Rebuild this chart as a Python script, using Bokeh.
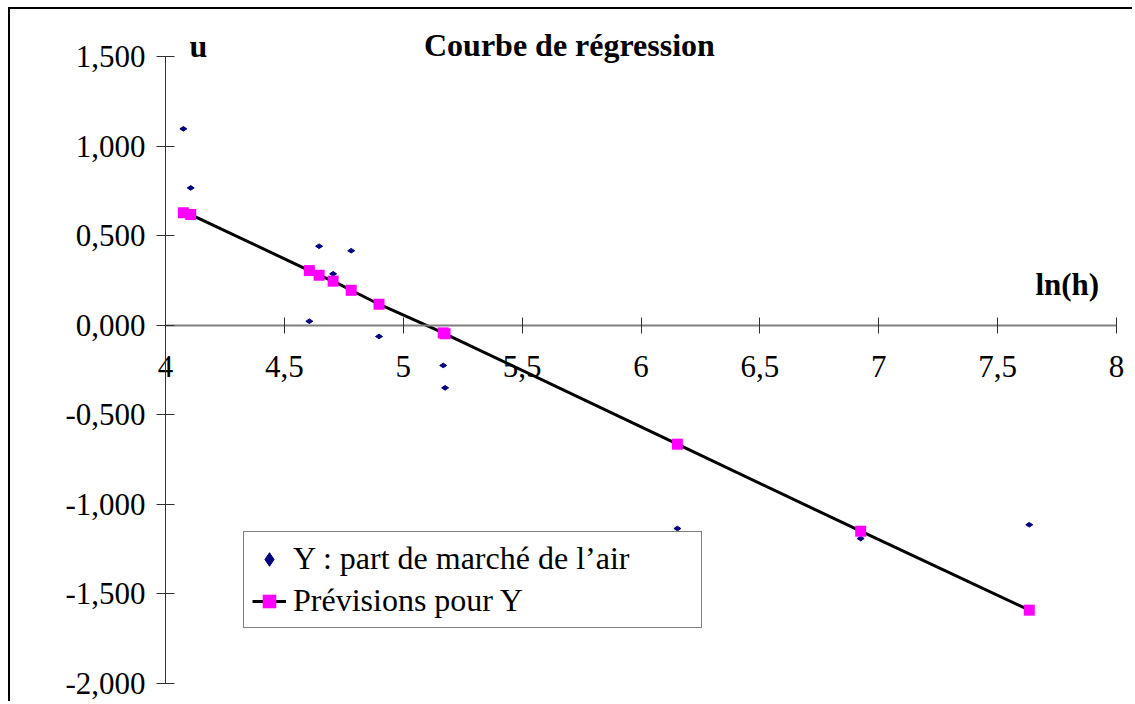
import numpy as np
from bokeh.plotting import figure
from bokeh.models import (ColumnDataSource, LinearAxis, FixedTicker, CustomJSTickFormatter,
                          Range1d, Label, Legend, LegendItem)
from bokeh.embed import file_html
from bokeh.resources import INLINE

# ---- data ----
ln_h = [4.075, 4.106, 4.605, 4.646, 4.705, 4.781, 4.898, 5.168, 5.176, 6.153, 6.924, 7.633]
y_obs = [1.096, 0.766, 0.021, 0.440, 0.286, 0.415, -0.064, -0.226, -0.351, -1.137, -1.193, -1.116]
y_pred = [0.627, 0.617, 0.304, 0.278, 0.245, 0.194, 0.116, -0.044, -0.049, -0.666, -1.152, -1.593]
x_ticks = [4, 4.5, 5, 5.5, 6, 6.5, 7, 7.5, 8]
y_ticks = [-2.0, -1.5, -1.0, -0.5, 0.0, 0.5, 1.0, 1.5]
title_text = "Courbe de régression"
y_title = "u"
x_title = "ln(h)"
label_obs = "Y : part de marché de l’air"
label_pred = "Prévisions pour Y"

FONT = "Liberation Serif"

src = ColumnDataSource(dict(x=ln_h, obs=y_obs, pred=y_pred))

# frame covers the whole canvas; axes are placed at x=4 and y=0 inside it
p = figure(width=1124, height=694, output_backend="svg", toolbar_location=None,
           x_range=Range1d(3.348, 8.0757), y_range=Range1d(-2.1145, 1.7626),
           x_axis_type=None, y_axis_type=None,
           min_border_left=0, min_border_right=0, min_border_top=0, min_border_bottom=0)
p.styles = {"margin-left": "8px", "margin-top": "7px",
            "border-left": "2px solid black", "border-top": "2px solid black"}
p.xgrid.visible = False
p.ygrid.visible = False
p.outline_line_color = None
p.background_fill_color = "white"
p.border_fill_color = "white"

# y axis at x = 4
yax = LinearAxis(ticker=FixedTicker(ticks=y_ticks), fixed_location=4, bounds=(-2, 1.5),
                 formatter=CustomJSTickFormatter(code="return tick.toFixed(3).replace('.', ',');"))
yax.axis_line_color = "#303030"
yax.axis_line_width = 1
yax.major_tick_line_color = "#303030"
yax.major_tick_in = 9
yax.major_tick_out = 9
yax.minor_tick_line_color = None
yax.major_label_text_font = FONT
yax.major_label_text_font_size = "31px"
yax.major_label_text_color = "black"
yax.major_label_standoff = 11
p.add_layout(yax, "left")

# x axis crossing at y = 0
xax = LinearAxis(ticker=FixedTicker(ticks=x_ticks), fixed_location=0, bounds=(4, 8),
                 formatter=CustomJSTickFormatter(code="return (Math.round(tick*10)/10).toString().replace('.', ',');"))
xax.axis_line_color = "#808080"
xax.axis_line_width = 2
xax.major_tick_line_color = "#303030"
xax.major_tick_in = 8
xax.major_tick_out = 8
xax.minor_tick_line_color = None
xax.major_label_text_font = FONT
xax.major_label_text_font_size = "31px"
xax.major_label_text_color = "black"
xax.major_label_standoff = 23
p.add_layout(xax, "below")

# glyphs
r_obs = p.scatter("x", "obs", source=src, marker="diamond", size=7, angle=np.pi / 2,
                  fill_color="#000080", line_color="#000080")
r_line = p.line("x", "pred", source=src, line_color="black", line_width=3)
r_sq = p.scatter("x", "pred", source=src, marker="square", size=11,
                 fill_color="#FF00FF", line_color=None)

# texts
p.add_layout(Label(x=5.699, y=1.567, text=title_text, text_font=FONT, text_font_size="32px",
                   text_font_style="bold", text_align="center", text_baseline="alphabetic",
                   text_color="black"))
p.add_layout(Label(x=4.101, y=1.556, text=y_title, text_font=FONT, text_font_size="32px",
                   text_font_style="bold", text_align="left", text_baseline="alphabetic",
                   text_color="black"))
p.add_layout(Label(x=7.659, y=0.227, text=x_title, text_font=FONT, text_font_size="31px",
                   text_font_style="bold", text_align="left", text_baseline="alphabetic",
                   text_color="black"))

legend = Legend(items=[LegendItem(label=label_obs, renderers=[r_obs]),
                       LegendItem(label=label_pred, renderers=[r_line, r_sq])],
                location=(233, 75), orientation="vertical")
legend.margin = 0
legend.padding = 8
legend.spacing = 5
legend.glyph_width = 34
legend.glyph_height = 36
legend.label_height = 36
legend.label_width = 400
legend.label_standoff = 7
legend.label_text_font = FONT
legend.label_text_font_size = "32px"
legend.label_text_color = "black"
legend.border_line_color = "black"
legend.border_line_width = 1
legend.background_fill_color = "white"
legend.background_fill_alpha = 1
p.add_layout(legend, "center")

open("out.html", "w").write(file_html(p, INLINE))
